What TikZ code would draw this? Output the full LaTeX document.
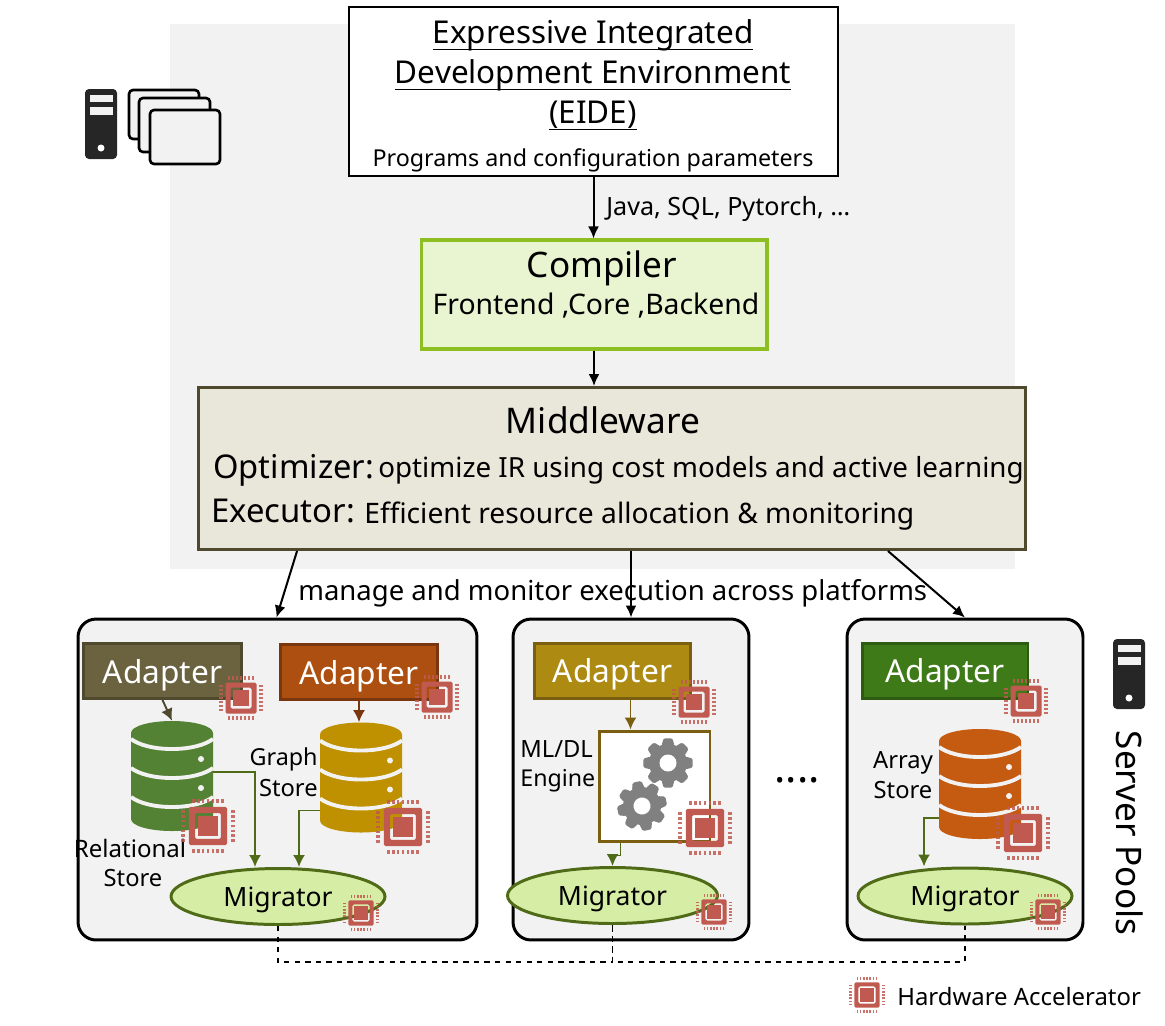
\documentclass[tikz,border=0pt]{standalone}
\usepackage{fontspec}
\setmainfont{Noto Sans}
\usepackage{xcolor}
\usepackage{tikz}
\usetikzlibrary{arrows.meta,shapes.geometric}

\definecolor{panelgrey}{HTML}{F2F2F2}
\definecolor{chipred}{HTML}{C05A50}
\definecolor{compfill}{HTML}{E9F4D0}
\definecolor{compline}{HTML}{8DBF22}
\definecolor{midfill}{HTML}{E9E6DA}
\definecolor{midline}{HTML}{4F4A2E}
\definecolor{migfill}{HTML}{D6EDA5}
\definecolor{migline}{HTML}{4F6B18}
\definecolor{olivefill}{HTML}{6B6240}
\definecolor{rustfill}{HTML}{AD4F10}
\definecolor{rustline}{HTML}{7A360F}
\definecolor{goldfill}{HTML}{AD8A12}
\definecolor{goldline}{HTML}{7A5F10}
\definecolor{leaffill}{HTML}{3F7A19}
\definecolor{leafline}{HTML}{2E5B12}
\definecolor{relgreen}{HTML}{548235}
\definecolor{graphgold}{HTML}{BF9000}
\definecolor{arrayorange}{HTML}{C55A11}
\definecolor{towerdark}{HTML}{262626}

\newcommand{\pxsize}[1]{\fontsize{#1}{#1}\selectfont}
\newcommand{\thickunder}[1]{\leavevmode\setbox0=\hbox{#1}\rlap{\rule[-0.22em]{\wd0}{0.8pt}}\box0}

\tikzset{
  lab/.style={inner sep=0pt,font=\pxsize{#1}},
  lab/.default=13.5,
  adapterbox/.style={draw=#1,line width=1.7pt,inner sep=0pt,minimum width=3.18cm,minimum height=1.1cm,text=white,text depth=0pt,font=\pxsize{18}},
  poolbox/.style={draw=black,line width=1.7pt,fill=panelgrey,rounded corners=0.36cm,inner sep=0pt},
  migbox/.style={ellipse,draw=migline,line width=1.7pt,fill=migfill,minimum width=4.28cm,minimum height=1.12cm,inner sep=0pt,text depth=0pt,font=\pxsize{15.1}},
  storespot/.style={inner sep=0pt,minimum width=1.64cm,minimum height=2.2cm},
  flow/.style={line width=1.15pt,-{Latex[length=0.24cm,width=0.22cm]}},
  feed/.style={draw=#1,line width=1.1pt,-{Latex[length=0.24cm,width=0.24cm]}},
  chip/.pic={
    \fill[chipred,even odd rule,rounded corners=0.03cm] (-15.5,-15.5) rectangle (15.5,15.5) (-10.5,-10.5) rectangle (10.5,10.5);
    \fill[chipred] (-8,-8) rectangle (8,8);
    \foreach \side in {0,90,180,270}{
      \foreach \k in {-3,...,3}{
        \fill[chipred,opacity=0.85,rotate=\side] (\k*3.9-1,-22) rectangle ++(2,3.6);
      }
    }
  },
  dbstack/.pic={
    \fill[pic actions] (-41,12) .. controls (-41,5) and (-22,0) .. (0,0) .. controls (22,0) and (41,5) .. (41,12) -- (41,98) .. controls (41,105) and (22,110) .. (0,110) .. controls (-22,110) and (-41,105) .. (-41,98) -- cycle;
    \foreach \h in {18,47,76}{
      \draw[panelgrey,line width=2.2pt] (-41,\h) .. controls (-33,\h+6) and (-18,\h+10) .. (0,\h+10) .. controls (18,\h+10) and (33,\h+6) .. (41,\h);
    }
    \fill[panelgrey] (29,38) circle (3);
    \fill[panelgrey] (29,67) circle (3);
  },
  tower/.pic={
    \fill[towerdark,rounded corners=0.08cm] (-16,0) rectangle (16,70);
    \fill[panelgrey] (-11.5,6) rectangle (11.5,13);
    \fill[panelgrey] (-11.5,18) rectangle (11.5,26);
    \fill[white] (0,59) circle (3.5);
  },
  cogwheel/.pic={
    \fill[gray] (0,0) circle (19);
    \foreach \a in {0,45,...,315}{
      \fill[gray,rotate=\a,rounded corners=0.03cm] (-6.5,-17) -- (-4.5,-24.7) -- (4.5,-24.7) -- (6.5,-17) -- cycle;
    }
    \fill[white] (0,0) circle (8.5);
  }
}

\begin{document}
\begin{tikzpicture}[x=0.02cm,y=-0.02cm]
\useasboundingbox (0,0) rectangle (1165,1025);
\fill[panelgrey] (170,24) rectangle (1015,569);

\foreach \xa/\ya/\xb/\yb in {129/90/199/139,139/98/210/152,150/110/220/164}{
  \draw[black,line width=1.5pt,fill=panelgrey,rounded corners=0.08cm] (\xa,\ya) rectangle (\xb,\yb);
}
\pic at (101,89) {tower};
\pic at (1129,639) {tower};

\node[draw=black,line width=1.2pt,fill=white,inner sep=0pt,minimum width=9.78cm,minimum height=3.38cm] (eide) at (593.5,91.5) {};
\node[lab=17.9,anchor=base] (eidea) at (593,43) {\thickunder{Expressive Integrated}};
\node[lab=17.9,anchor=base] (eideb) at (593,83) {\thickunder{Development Environment}};
\node[lab=17.9,anchor=base] (eidec) at (593,123) {\thickunder{(EIDE)}};
\node[lab=13.25] (eided) at (593,160) {Programs and configuration parameters};

\node[draw=compline,line width=1.75pt,fill=compfill,inner sep=0pt,minimum width=6.92cm,minimum height=2.18cm] (compiler) at (594,294.5) {};
\node[lab=20] (compa) at (602,268) {Compiler};
\node[lab=16.15] (compb) at (596,306) {Frontend ,Core ,Backend};

\node[draw=midline,line width=1.7pt,fill=midfill,inner sep=0pt,minimum width=16.54cm,minimum height=3.24cm] (middle) at (612,468.5) {};
\node[lab=20.1] (mida) at (603,420) {Middleware};
\node[lab=18.6,anchor=west] (midb) at (213,470) {Optimizer:};
\node[lab=15.8,anchor=west] (midc) at (378,470) {optimize IR using cost models and active learning};
\node[lab=18.7,anchor=west] (midd) at (211,511) {Executor:};
\node[lab=16.05,anchor=west] (mide) at (364,516) {Efficient resource allocation \& monitoring};

\draw[flow] (eide.south) -- (eide.south |- compiler.north);
\draw[flow] (compiler.south) -- (compiler.south |- middle.north);
\node[lab=14.3,anchor=west] (langs) at (606,209) {Java, SQL, Pytorch, …};
\node[lab=15.65,anchor=west] (manage) at (298,593) {manage and monitor execution across platforms};

\node[poolbox,minimum width=7.98cm,minimum height=6.42cm] (poola) at (277.5,779.5) {};
\node[poolbox,minimum width=4.72cm,minimum height=6.42cm] (poolb) at (631,779.5) {};
\node[poolbox,minimum width=4.72cm,minimum height=6.42cm] (poolc) at (965,779.5) {};

\draw[flow] ([xshift=-6.3cm]middle.south) -- ([xshift=-0.02cm]poola.north);
\draw[flow] (poolb.north |- middle.south) -- (poolb.north);
\draw[flow] ([xshift=5.52cm]middle.south) -- (poolc.north);

\node[adapterbox=midline,fill=olivefill] (adapa) at (162.5,671) {Adapter};
\node[adapterbox=rustline,fill=rustfill,minimum width=3.14cm] (adapb) at (359,672) {Adapter};
\node[adapterbox=goldline,fill=goldfill,minimum width=3.12cm] (adapc) at (612.5,670.5) {Adapter};
\node[adapterbox=leafline,fill=leaffill,minimum width=3.32cm] (adapd) at (945,670.5) {Adapter};

\node[storespot] (relstore) at (172,776) {};
\node[storespot] (graphstore) at (361,777.5) {};
\node[storespot] (arraystore) at (980,784) {};
\pic[fill=relgreen] at (172,721) {dbstack};
\pic[fill=graphgold] at (361,722.5) {dbstack};
\pic[fill=arrayorange] at (980,729) {dbstack};

\node[draw=goldline,line width=1.7pt,fill=white,inner sep=0pt,minimum width=2.22cm,minimum height=2.2cm] (engine) at (654.5,786) {};
\pic at (668,763) {cogwheel};
\pic[rotate=12] at (642,806) {cogwheel};

\node[migbox] (miga) at (278,896.5) {Migrator};
\node[migbox,minimum width=4.2cm] (migb) at (612.5,895.5) {Migrator};
\node[migbox] (migc) at (965,896) {Migrator};

\draw[feed=midline] (adapa.south) -- (relstore.north);
\draw[feed=rustline] (adapb.south) -- (adapb.south |- graphstore.north);
\draw[feed=goldline] ([xshift=0.36cm]adapc.south) -- ([xshift=0.36cm]adapc.south |- engine.north);
\draw[feed=migline] ([yshift=0.08cm]relstore.east) -| ([xshift=-0.46cm]miga.north);
\draw[feed=migline] ([yshift=-0.66cm]graphstore.west) -| ([xshift=0.42cm]miga.north);
\draw[feed=migline] ([yshift=-0.68cm]arraystore.west) -| ([xshift=-0.82cm]migc.north);
\draw[migline,line width=1.1pt] ([xshift=-0.68cm]engine.south) -- ++(0,13) -- ++(-8,0) coordinate (engineout);
\draw[feed=migline] (engineout) -- (migb.north);

\draw[black,line width=0.9pt,dashed] (miga.south) -- ++(0,36) -| (migb.south);
\draw[black,line width=0.9pt,dashed] (migb.south) -- ++(0,37) -| (migc.south);

\node[lab=13.3,anchor=east] (grapha) at (318,759) {Graph};
\node[lab=13.5,anchor=east] (graphb) at (318,788) {Store};
\node[lab=13.7] (rela) at (130,848) {Relational};
\node[lab=13.5] (relb) at (133,878) {Store};
\node[lab=13.5,anchor=west] (enga) at (520,749) {ML/DL};
\node[lab=13.2,anchor=west] (engb) at (520,781) {Engine};
\node[lab=13.5] (arra) at (903,763) {Array};
\node[lab=13.5] (arrb) at (903,790) {Store};

\foreach \xc/\yc/\sc in {241/698/1,437/697/1,694/702/1,1026/701/1,208/826/1.23,403/827/1.23,705/828/1.23,1023/833/1.23,361/913/0.82,714/912/0.82,1048/912/0.82,867/995/0.82}{
  \pic[scale=\sc] at (\xc,\yc) {chip};
}

\node[lab=24,font=\pxsize{24}\bfseries] (dots) at (797,780) {....};
\node[lab=20,rotate=-90] (servers) at (1130,833) {Server Pools};
\node[lab=13.6,anchor=west] (legend) at (897,997) {Hardware Accelerator};
\end{tikzpicture}
\end{document}
